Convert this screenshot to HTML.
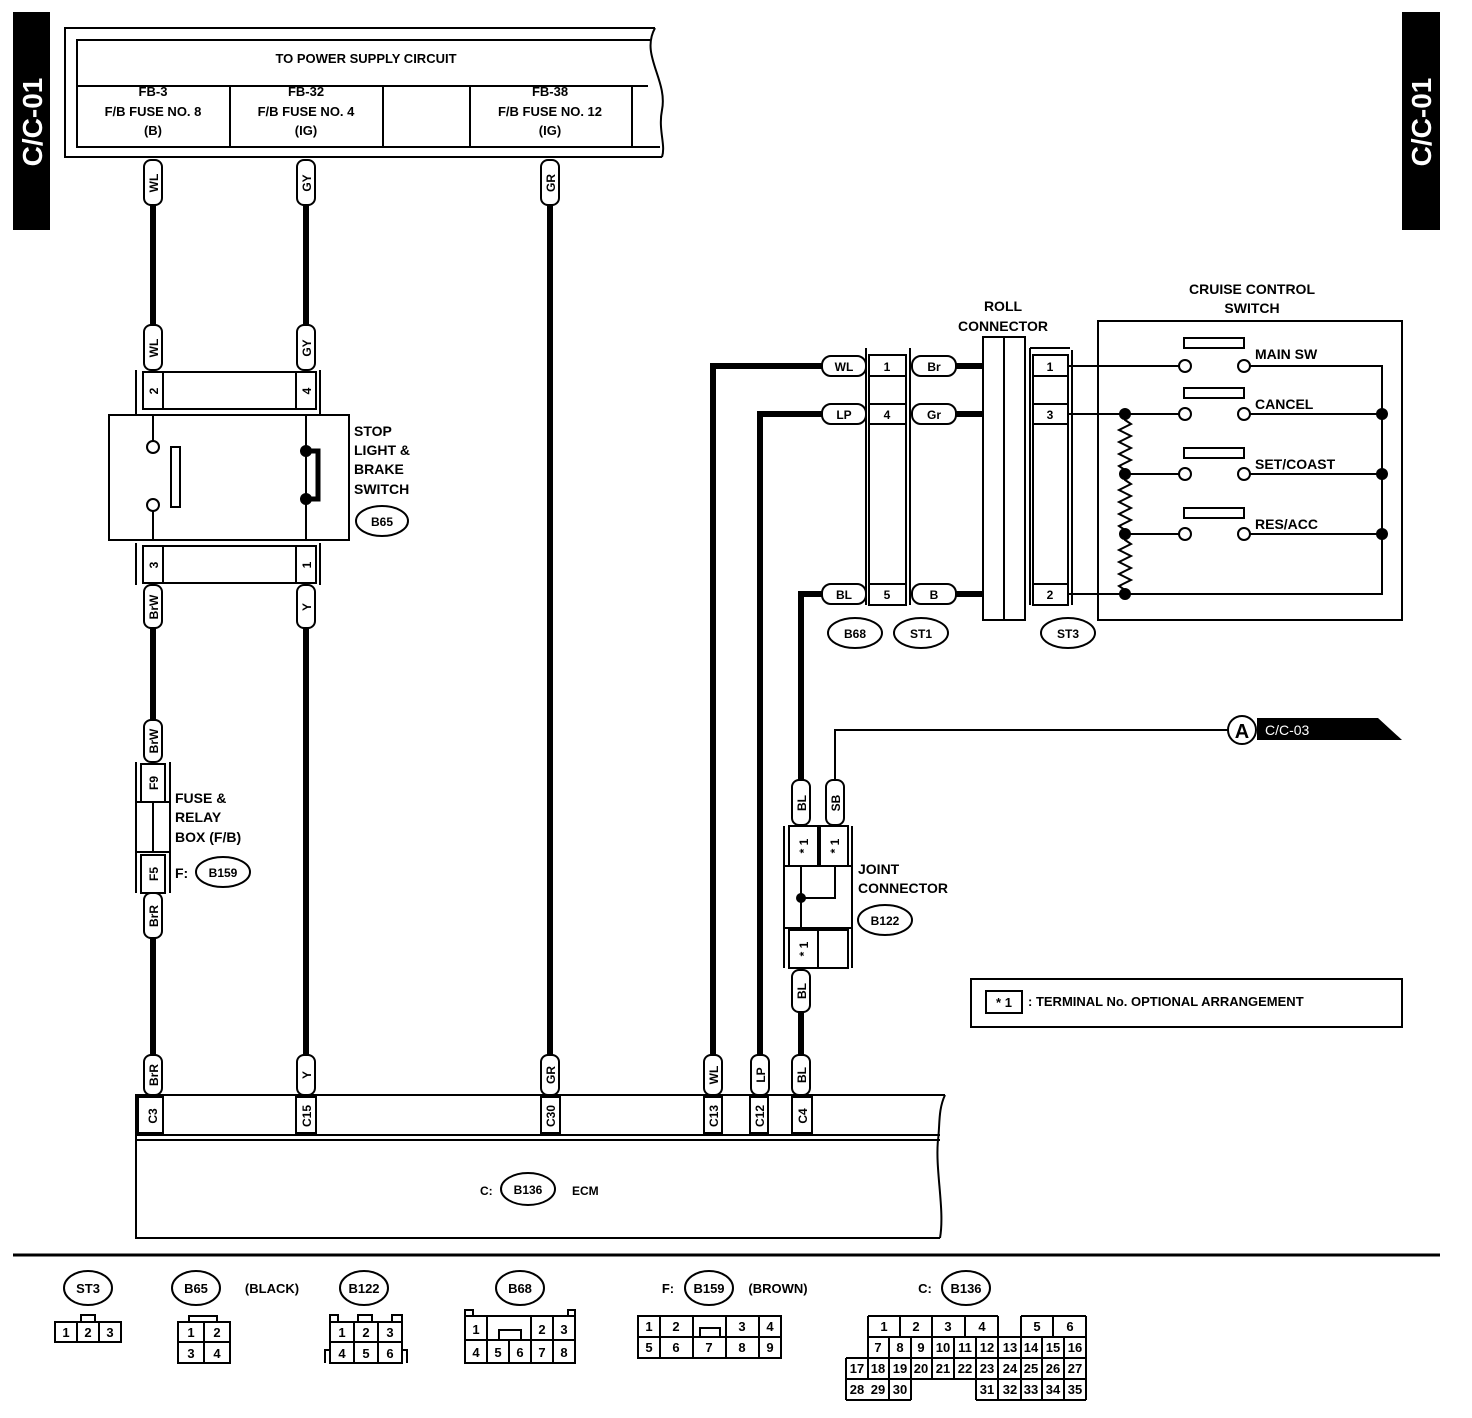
<!DOCTYPE html>
<html><head><meta charset="utf-8"><style>
html,body{margin:0;padding:0;background:#fff}
svg{display:block}
text{font-family:"Liberation Sans",sans-serif;font-weight:bold;font-size:13px;fill:#000}
.t{font-size:14px}
.s{font-size:12px}
.thin{stroke:#000;stroke-width:2;fill:none}
.thick{stroke:#000;stroke-width:6;fill:none}
.box{stroke:#000;stroke-width:2;fill:#fff}
</style></head><body>
<svg width="1472" height="1418" viewBox="0 0 1472 1418" xmlns="http://www.w3.org/2000/svg">
<rect width="1472" height="1418" fill="#fff"/>
<rect x="13" y="12" width="37" height="218" fill="#000"/>
<text transform="translate(42,122) rotate(-90)" text-anchor="middle" style="font-size:28px;fill:#fff">C/C-01</text>
<rect x="1402" y="12" width="38" height="218" fill="#000"/>
<text transform="translate(1431,122) rotate(-90)" text-anchor="middle" style="font-size:28px;fill:#fff">C/C-01</text>

<path class="thin" d="M655,28 H65 V157 H662" stroke-width="3"/>
<path class="thin" d="M650,40 H77 V147 H660 M77,86 H648"/>
<path class="thin" d="M230,86 V147 M383,86 V147 M470,86 V147 M632,86 V147"/>
<path class="thin" d="M655,28 C640,55 668,80 662,110 C658,130 666,145 662,157"/>
<text x="366" y="63" text-anchor="middle">TO POWER SUPPLY CIRCUIT</text>
<g text-anchor="middle">
<text x="153" y="96">FB-3</text><text x="153" y="116">F/B FUSE NO. 8</text><text x="153" y="135">(B)</text>
<text x="306" y="96">FB-32</text><text x="306" y="116">F/B FUSE NO. 4</text><text x="306" y="135">(IG)</text>
<text x="550" y="96">FB-38</text><text x="550" y="116">F/B FUSE NO. 12</text><text x="550" y="135">(IG)</text>
</g>

<path class="thick" d="M153,205 V325 M306,205 V325 M550,205 V1055 M153,628 V720 M153,938 V1055 M306,628 V1055" stroke-width="5"/>

<g>
<rect x="144" y="160" width="18" height="45" rx="7" class="box"/><text transform="translate(158,183) rotate(-90)" text-anchor="middle" class="s">WL</text>
<rect x="297" y="160" width="18" height="45" rx="7" class="box"/><text transform="translate(311,183) rotate(-90)" text-anchor="middle" class="s">GY</text>
<rect x="541" y="160" width="18" height="45" rx="7" class="box"/><text transform="translate(555,183) rotate(-90)" text-anchor="middle" class="s">GR</text>
<rect x="144" y="325" width="18" height="45" rx="7" class="box"/><text transform="translate(158,348) rotate(-90)" text-anchor="middle" class="s">WL</text>
<rect x="297" y="325" width="18" height="45" rx="7" class="box"/><text transform="translate(311,348) rotate(-90)" text-anchor="middle" class="s">GY</text>
<rect x="144" y="585" width="18" height="43" rx="7" class="box"/><text transform="translate(158,607) rotate(-90)" text-anchor="middle" class="s">BrW</text>
<rect x="297" y="585" width="18" height="43" rx="7" class="box"/><text transform="translate(311,607) rotate(-90)" text-anchor="middle" class="s">Y</text>
<rect x="144" y="720" width="18" height="42" rx="7" class="box"/><text transform="translate(158,741) rotate(-90)" text-anchor="middle" class="s">BrW</text>
<rect x="144" y="893" width="18" height="45" rx="7" class="box"/><text transform="translate(158,916) rotate(-90)" text-anchor="middle" class="s">BrR</text>
<rect x="144" y="1055" width="18" height="40" rx="7" class="box"/><text transform="translate(158,1075) rotate(-90)" text-anchor="middle" class="s">BrR</text>
<rect x="297" y="1055" width="18" height="40" rx="7" class="box"/><text transform="translate(311,1075) rotate(-90)" text-anchor="middle" class="s">Y</text>
<rect x="541" y="1055" width="18" height="40" rx="7" class="box"/><text transform="translate(555,1075) rotate(-90)" text-anchor="middle" class="s">GR</text>
<rect x="704" y="1055" width="18" height="40" rx="7" class="box"/><text transform="translate(718,1075) rotate(-90)" text-anchor="middle" class="s">WL</text>
<rect x="751" y="1055" width="18" height="40" rx="7" class="box"/><text transform="translate(765,1075) rotate(-90)" text-anchor="middle" class="s">LP</text>
<rect x="792" y="1055" width="18" height="40" rx="7" class="box"/><text transform="translate(806,1075) rotate(-90)" text-anchor="middle" class="s">BL</text>
<rect x="792" y="780" width="18" height="45" rx="7" class="box"/><text transform="translate(806,803) rotate(-90)" text-anchor="middle" class="s">BL</text>
<rect x="826" y="780" width="18" height="45" rx="7" class="box"/><text transform="translate(840,803) rotate(-90)" text-anchor="middle" class="s">SB</text>
<rect x="792" y="970" width="18" height="42" rx="7" class="box"/><text transform="translate(806,991) rotate(-90)" text-anchor="middle" class="s">BL</text>
</g>

<path class="thin" d="M136,370 V415 M320,370 V415 M136,543 V585 M320,543 V585" stroke-width="3"/>
<rect x="143" y="372" width="173" height="37" class="thin" stroke-width="3"/>
<path class="thin" d="M163,372 V409 M296,372 V409"/>
<text transform="translate(158,391) rotate(-90)" text-anchor="middle" class="s">2</text>
<text transform="translate(311,391) rotate(-90)" text-anchor="middle" class="s">4</text>
<rect x="143" y="546" width="173" height="37" class="thin" stroke-width="3"/>
<path class="thin" d="M163,546 V583 M296,546 V583"/>
<text transform="translate(158,565) rotate(-90)" text-anchor="middle" class="s">3</text>
<text transform="translate(311,565) rotate(-90)" text-anchor="middle" class="s">1</text>
<rect x="109" y="415" width="240" height="125" class="thin" stroke-width="3"/>
<path class="thin" d="M153,415 V441 M153,511 V540 M306,415 V540"/>
<circle cx="153" cy="447" r="6" class="box"/><circle cx="153" cy="505" r="6" class="box"/>
<rect x="171" y="447" width="9" height="60" class="box"/>
<path d="M306,451 H318 V499 H306" stroke="#000" stroke-width="5" fill="none"/>
<circle cx="306" cy="451" r="6"/><circle cx="306" cy="499" r="6"/>
<text x="354" y="436" class="t">STOP</text><text x="354" y="455" class="t">LIGHT &amp;</text>
<text x="354" y="474" class="t">BRAKE</text><text x="354" y="494" class="t">SWITCH</text>
<ellipse cx="382" cy="521" rx="26" ry="15" class="box"/><text x="382" y="526" text-anchor="middle" class="s">B65</text>

<path class="thin" d="M136,762 V893 M170,762 V893 M136,802 H170 M136,852 H170 M153,802 V852" stroke-width="3"/>
<rect x="141" y="764" width="24" height="38" class="thin" stroke-width="3"/>
<rect x="141" y="855" width="24" height="38" class="thin" stroke-width="3"/>
<text transform="translate(158,783) rotate(-90)" text-anchor="middle" class="s">F9</text>
<text transform="translate(158,874) rotate(-90)" text-anchor="middle" class="s">F5</text>
<text x="175" y="803" class="t">FUSE &amp;</text><text x="175" y="822" class="t">RELAY</text><text x="175" y="842" class="t">BOX (F/B)</text>
<text x="175" y="878" class="t">F:</text>
<ellipse cx="223" cy="872" rx="27" ry="15" class="box"/><text x="223" y="877" text-anchor="middle" class="s">B159</text>

<path class="thick" d="M713,1055 V366 H822 M760,1055 V414 H822 M801,780 V594 H822 M801,1012 V1055" stroke-width="5"/>
<path class="thin" d="M835,780 V730 H1228"/>
<circle cx="1242" cy="730" r="14" class="box" stroke-width="3"/>
<text x="1242" y="738" text-anchor="middle" style="font-size:20px">A</text>
<path d="M1257,718 H1378 L1402,740 H1257 Z" fill="#000"/>
<text x="1265" y="735" style="fill:#fff;font-size:14px;font-weight:normal">C/C-03</text>

<g text-anchor="middle" class="s">
<rect x="822" y="356" width="44" height="20" rx="9" class="box"/><text x="844" y="371" class="s">WL</text>
<rect x="822" y="404" width="44" height="20" rx="9" class="box"/><text x="844" y="419" class="s">LP</text>
<rect x="822" y="584" width="44" height="20" rx="9" class="box"/><text x="844" y="599" class="s">BL</text>
<rect x="912" y="356" width="44" height="20" rx="9" class="box"/><text x="934" y="371" class="s">Br</text>
<rect x="912" y="404" width="44" height="20" rx="9" class="box"/><text x="934" y="419" class="s">Gr</text>
<rect x="912" y="584" width="44" height="20" rx="9" class="box"/><text x="934" y="599" class="s">B</text>
</g>
<path class="thick" d="M956,366 H983 M956,414 H983 M956,594 H983"/>
<path class="thin" d="M866,348 V605 M910,348 V605" stroke-width="3"/>
<rect x="869" y="355" width="37" height="250" class="thin" stroke-width="3"/>
<path class="thin" d="M869,376 H906 M869,404 H906 M869,424 H906 M869,584 H906"/>
<text x="887" y="371" text-anchor="middle" class="s">1</text>
<text x="887" y="419" text-anchor="middle" class="s">4</text>
<text x="887" y="599" text-anchor="middle" class="s">5</text>
<rect x="983" y="337" width="42" height="283" class="thin"/>
<path class="thin" d="M1004,337 V620"/>
<text x="1003" y="311" text-anchor="middle" class="t">ROLL</text>
<text x="1003" y="331" text-anchor="middle" class="t">CONNECTOR</text>
<path class="thin" d="M1030,348 H1070 M1030,348 V605 M1072,350 V605" stroke-width="3"/>
<rect x="1033" y="355" width="35" height="250" class="thin" stroke-width="3"/>
<path class="thin" d="M1033,376 H1068 M1033,404 H1068 M1033,424 H1068 M1033,584 H1068"/>
<text x="1050" y="371" text-anchor="middle" class="s">1</text>
<text x="1050" y="419" text-anchor="middle" class="s">3</text>
<text x="1050" y="599" text-anchor="middle" class="s">2</text>
<ellipse cx="855" cy="633" rx="27" ry="15" class="box"/><text x="855" y="638" text-anchor="middle" class="s">B68</text>
<ellipse cx="921" cy="633" rx="27" ry="15" class="box"/><text x="921" y="638" text-anchor="middle" class="s">ST1</text>
<ellipse cx="1068" cy="633" rx="27" ry="15" class="box"/><text x="1068" y="638" text-anchor="middle" class="s">ST3</text>

<rect x="1098" y="321" width="304" height="299" class="thin"/>
<text x="1252" y="294" text-anchor="middle" class="t">CRUISE CONTROL</text>
<text x="1252" y="313" text-anchor="middle" class="t">SWITCH</text>
<path class="thin" d="M1068,366 H1179 M1068,414 H1179 M1125,474 H1179 M1125,534 H1179 M1068,594 H1382 V366 H1250 M1250,414 H1382 M1250,474 H1382 M1250,534 H1382"/>
<path class="thin" d="M1125,414 V420 l6,4 l-12,6 l12,6 l-12,6 l12,6 l-12,6 l12,6 l-12,6 l6,4 V480 l6,4 l-12,6 l12,6 l-12,6 l12,6 l-12,6 l12,6 l-12,6 l6,4 V540 l6,4 l-12,6 l12,6 l-12,6 l12,6 l-12,6 l12,6 l-12,6 l6,4 V594"/>
<g fill="#000"><circle cx="1125" cy="414" r="6"/><circle cx="1125" cy="474" r="6"/><circle cx="1125" cy="534" r="6"/><circle cx="1125" cy="594" r="6"/>
<circle cx="1382" cy="414" r="6"/><circle cx="1382" cy="474" r="6"/><circle cx="1382" cy="534" r="6"/></g>
<g>
<circle cx="1185" cy="366" r="6" class="box"/><circle cx="1244" cy="366" r="6" class="box"/>
<circle cx="1185" cy="414" r="6" class="box"/><circle cx="1244" cy="414" r="6" class="box"/>
<circle cx="1185" cy="474" r="6" class="box"/><circle cx="1244" cy="474" r="6" class="box"/>
<circle cx="1185" cy="534" r="6" class="box"/><circle cx="1244" cy="534" r="6" class="box"/>
<rect x="1184" y="338" width="60" height="10" class="box"/><rect x="1184" y="388" width="60" height="10" class="box"/>
<rect x="1184" y="448" width="60" height="10" class="box"/><rect x="1184" y="508" width="60" height="10" class="box"/>
</g>
<text x="1255" y="359" class="t">MAIN SW</text><text x="1255" y="409" class="t">CANCEL</text>
<text x="1255" y="469" class="t">SET/COAST</text><text x="1255" y="529" class="t">RES/ACC</text>

<path class="thin" d="M784,826 V968 M852,826 V968 M784,866 H852 M784,928 H852" stroke-width="3"/>
<rect x="789" y="826" width="29" height="40" class="thin" stroke-width="3"/>
<rect x="820" y="826" width="28" height="40" class="thin" stroke-width="3"/>
<rect x="789" y="930" width="59" height="38" class="thin" stroke-width="3"/>
<path class="thin" d="M818,930 V968 M801,866 V930 M835,866 V898 H801"/>
<circle cx="801" cy="898" r="5"/>
<text transform="translate(808,846) rotate(-90)" text-anchor="middle" class="s">* 1</text>
<text transform="translate(839,846) rotate(-90)" text-anchor="middle" class="s">* 1</text>
<text transform="translate(808,949) rotate(-90)" text-anchor="middle" class="s">* 1</text>
<text x="858" y="874" class="t">JOINT</text><text x="858" y="893" class="t">CONNECTOR</text>
<ellipse cx="885" cy="920" rx="27" ry="15" class="box"/><text x="885" y="925" text-anchor="middle" class="s">B122</text>

<rect x="971" y="979" width="431" height="48" class="thin" stroke-width="3"/>
<rect x="986" y="991" width="36" height="22" class="thin" stroke-width="3"/>
<text x="1004" y="1007" text-anchor="middle">* 1</text>
<text x="1028" y="1006">: TERMINAL No. OPTIONAL ARRANGEMENT</text>

<path class="thin" d="M945,1095 H136 V1238 H940 M136,1135 H940 M136,1140 H940" stroke-width="3"/>
<path class="thin" d="M945,1095 C938,1110 940,1125 938,1140 C935,1170 945,1210 940,1238" stroke-width="2"/>
<g>
<rect x="138" y="1097" width="25" height="36" class="thin"/><rect x="296" y="1097" width="20" height="36" class="thin"/>
<rect x="541" y="1097" width="19" height="36" class="thin"/><rect x="704" y="1097" width="18" height="36" class="thin"/>
<rect x="750" y="1097" width="18" height="36" class="thin"/><rect x="792" y="1097" width="20" height="36" class="thin"/>
</g>
<text transform="translate(157,1116) rotate(-90)" text-anchor="middle" class="s">C3</text>
<text transform="translate(311,1116) rotate(-90)" text-anchor="middle" class="s">C15</text>
<text transform="translate(555,1116) rotate(-90)" text-anchor="middle" class="s">C30</text>
<text transform="translate(718,1116) rotate(-90)" text-anchor="middle" class="s">C13</text>
<text transform="translate(764,1116) rotate(-90)" text-anchor="middle" class="s">C12</text>
<text transform="translate(807,1116) rotate(-90)" text-anchor="middle" class="s">C4</text>
<text x="480" y="1195" class="s">C:</text>
<ellipse cx="528" cy="1189" rx="27" ry="16" class="box"/><text x="528" y="1194" text-anchor="middle" class="s">B136</text>
<text x="572" y="1195" class="s">ECM</text>

<path d="M13,1255 H1440" stroke="#000" stroke-width="3"/>
<g class="s" text-anchor="middle">
<ellipse cx="88" cy="1288" rx="24" ry="17" class="box" stroke-width="3"/><text x="88" y="1293">ST3</text>
<ellipse cx="196" cy="1288" rx="24" ry="17" class="box" stroke-width="3"/><text x="196" y="1293">B65</text>
<text x="272" y="1293">(BLACK)</text>
<ellipse cx="364" cy="1288" rx="24" ry="17" class="box" stroke-width="3"/><text x="364" y="1293">B122</text>
<ellipse cx="520" cy="1288" rx="24" ry="17" class="box" stroke-width="3"/><text x="520" y="1293">B68</text>
<text x="668" y="1293">F:</text>
<ellipse cx="709" cy="1288" rx="24" ry="17" class="box" stroke-width="3"/><text x="709" y="1293">B159</text>
<text x="778" y="1293">(BROWN)</text>
<text x="925" y="1293">C:</text>
<ellipse cx="966" cy="1288" rx="24" ry="17" class="box" stroke-width="3"/><text x="966" y="1293">B136</text>
</g>
<g class="thin" stroke-width="1.5">
<rect x="55" y="1322" width="66" height="20"/><path d="M77,1322 V1342 M99,1322 V1342 M81,1322 V1315 H95 V1322"/>
<rect x="178" y="1322" width="52" height="41"/><path d="M204,1322 V1363 M178,1342 H230 M189,1322 V1316 H217 V1322"/>
<rect x="330" y="1322" width="72" height="41"/><path d="M354,1322 V1363 M378,1322 V1363 M330,1342 H402 M330,1322 V1315 H338 V1322 M358,1322 V1315 H372 V1322 M392,1322 V1315 H402 V1322 M330,1350 H325 V1363 M402,1350 H407 V1363"/>
<rect x="465" y="1316" width="110" height="47"/><path d="M465,1340 H575 M487,1316 V1363 M509,1340 V1363 M531,1316 V1363 M553,1316 V1363 M499,1340 V1330 H521 V1340 M465,1316 V1310 H473 V1316 M568,1316 V1310 H575 V1316"/>
<rect x="638" y="1316" width="143" height="42"/><path d="M638,1337 H781 M660,1316 V1358 M693,1316 V1358 M726,1316 V1358 M759,1316 V1358 M700,1337 V1328 H720 V1337"/>
<path d="M868,1316 H998 M1021,1316 H1086 M868,1316 V1337 M900,1316 V1337 M932,1316 V1337 M965,1316 V1337 M998,1316 V1337 M1021,1316 V1337 M1053,1316 V1337 M1086,1316 V1400 M868,1337 H1086 M846,1358 H1086 M846,1379 H1086 M846,1400 H911 M976,1400 H1086 M846,1358 V1400 M911,1379 V1400 M976,1379 V1400"/>
<path d="M868,1337 V1379 M889,1337 V1400 M911,1337 V1379 M932,1337 V1379 M954,1337 V1379 M976,1337 V1379 M998,1337 V1400 M1021,1337 V1400 M1042,1337 V1400 M1064,1337 V1400"/>
</g>
<g class="s" text-anchor="middle" style="font-weight:normal">
<text x="66" y="1337">1</text><text x="88" y="1337">2</text><text x="110" y="1337">3</text>
<text x="191" y="1337">1</text><text x="217" y="1337">2</text><text x="191" y="1358">3</text><text x="217" y="1358">4</text>
<text x="342" y="1337">1</text><text x="366" y="1337">2</text><text x="390" y="1337">3</text>
<text x="342" y="1358">4</text><text x="366" y="1358">5</text><text x="390" y="1358">6</text>
<text x="476" y="1334">1</text><text x="542" y="1334">2</text><text x="564" y="1334">3</text>
<text x="476" y="1357">4</text><text x="498" y="1357">5</text><text x="520" y="1357">6</text><text x="542" y="1357">7</text><text x="564" y="1357">8</text>
<text x="649" y="1331">1</text><text x="676" y="1331">2</text><text x="742" y="1331">3</text><text x="770" y="1331">4</text>
<text x="649" y="1352">5</text><text x="676" y="1352">6</text><text x="709" y="1352">7</text><text x="742" y="1352">8</text><text x="770" y="1352">9</text>
<text x="884" y="1331">1</text><text x="916" y="1331">2</text><text x="948" y="1331">3</text><text x="982" y="1331">4</text><text x="1037" y="1331">5</text><text x="1070" y="1331">6</text>
<text x="878" y="1352">7</text><text x="900" y="1352">8</text><text x="921" y="1352">9</text><text x="943" y="1352">10</text><text x="965" y="1352">11</text><text x="987" y="1352">12</text><text x="1010" y="1352">13</text><text x="1031" y="1352">14</text><text x="1053" y="1352">15</text><text x="1075" y="1352">16</text>
<text x="857" y="1373">17</text><text x="878" y="1373">18</text><text x="900" y="1373">19</text><text x="921" y="1373">20</text><text x="943" y="1373">21</text><text x="965" y="1373">22</text><text x="987" y="1373">23</text><text x="1010" y="1373">24</text><text x="1031" y="1373">25</text><text x="1053" y="1373">26</text><text x="1075" y="1373">27</text>
<text x="857" y="1394">28</text><text x="878" y="1394">29</text><text x="900" y="1394">30</text><text x="987" y="1394">31</text><text x="1010" y="1394">32</text><text x="1031" y="1394">33</text><text x="1053" y="1394">34</text><text x="1075" y="1394">35</text>
</g>
</svg>
</body></html>
